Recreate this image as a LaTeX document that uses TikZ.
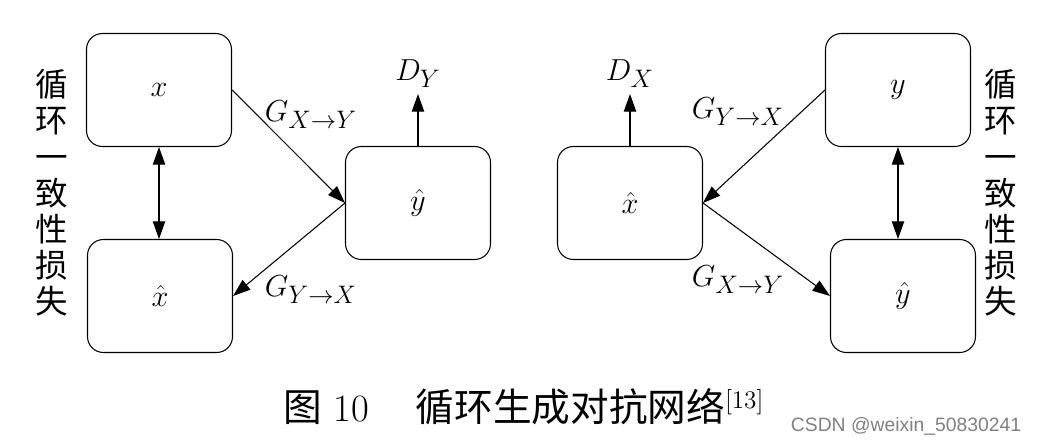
\documentclass[tikz,border=0pt]{standalone}
\usepackage{fontspec}
\newfontfamily\cjk{Noto Sans CJK SC}
\newfontfamily\wmfont{Liberation Sans}
\usetikzlibrary{arrows.meta}

\begin{document}
\begin{tikzpicture}[
    x=0.02cm, y=-0.02cm, % one unit per pixel, y downwards
    >={Triangle[length=10pt, width=7pt]}, % filled arrow heads
    box/.style={draw, line width=0.6pt, rounded corners=9pt,
        minimum width=2.9cm, minimum height=2.26cm,
        font=\fontsize{17}{17}\selectfont}, % rounded boxes
    flow/.style={->, line width=0.6pt}, % generator arrows
    gen/.style={font=\fontsize{19}{19}\selectfont}, % G and D labels
    side/.style={font=\cjk\fontsize{18.5}{20.6}\selectfont, align=center} % vertical text
]

    \useasboundingbox (0,0) rectangle (1038,443);

    % Left half: x -> y_hat -> x_hat
    \node[box] (xl)  at (159,90)  {$x$};
    \node[box] (xhl) at (160,296) {$\hat{x}$};
    \node[box] (yhl) at (418,203) {$\hat{y}$};
    \node[gen] (dy)  at (418,74)  {$D_Y$};

    \draw[flow] (xl.east) -- (yhl.west);
    \draw[flow] (yhl.west) -- (xhl.east);
    \draw[flow] (yhl.north) -- (dy.south);
    \draw[<->, line width=0.6pt] (xl.south) -- (xl.south |- xhl.north);

    \node[gen] (gxyl) at (311,115) {$G_{X\to Y}$};
    \node[gen] (gyxl) at (311,290) {$G_{Y\to X}$};

    % Right half: y -> x_hat -> y_hat
    \node[box] (yr)  at (898,90)  {$y$};
    \node[box] (yhr) at (903,296) {$\hat{y}$};
    \node[box] (xhr) at (630,203) {$\hat{x}$};
    \node[gen] (dx)  at (630,74)  {$D_X$};

    \draw[flow] (yr.west) -- (xhr.east);
    \draw[flow] (xhr.east) -- (yhr.west);
    \draw[flow] (xhr.north) -- (dx.south);
    \draw[<->, line width=0.6pt] (yr.south) -- (yr.south |- yhr.north);

    \node[gen] (gyxr) at (738,112) {$G_{Y\to X}$};
    \node[gen] (gxyr) at (738,280) {$G_{X\to Y}$};

    % Cycle consistency loss, written downwards
    \node[side] (lossl) at (52,193)   {循\\环\\一\\致\\性\\损\\失};
    \node[side] (lossr) at (1001,193) {循\\环\\一\\致\\性\\损\\失};

    % Caption and watermark
    \node[font=\fontsize{22}{22}\selectfont] (cap) at (524,407)
        {{\cjk 图}\ 10\hspace{1.2em}{\cjk 循环生成对抗网络}$^{[13]}$};
    \node[font=\wmfont\fontsize{11}{11}\selectfont, text=gray] (wm) at (906,426)
        {CSDN @weixin\_50830241};

\end{tikzpicture}
\end{document}
